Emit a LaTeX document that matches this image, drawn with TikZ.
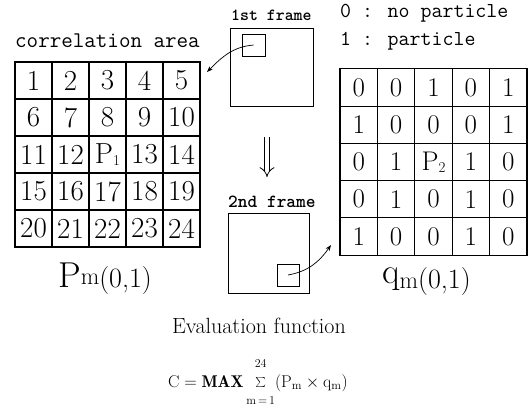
\documentclass[tikz,border=0pt]{standalone}
\usepackage{fontspec}
\usetikzlibrary{arrows.meta}
\newcommand{\fsz}[1]{\fontsize{#1}{#1}\selectfont}
\newcommand{\Pone}{P\raisebox{-2pt}{\fsz{15}1}}
\newcommand{\Ptwo}{P\raisebox{-2pt}{\fsz{15}2}}
\tikzset{
  cellL/.style={draw, line width=1.1pt, minimum size=37pt, inner sep=0pt, font=\fsz{29}},
  cellR/.style={draw, line width=1.1pt, minimum size=37.4pt, inner sep=0pt, font=\fsz{27}},
  framebox/.style={draw, line width=0.9pt, inner sep=0pt},
  monolabel/.style={font=\ttfamily\fsz{#1}, inner sep=0pt, anchor=base west},
  flow/.style={line width=0.7pt, -{Stealth[length=6pt,width=4.5pt]}},
}
\begin{document}
\begin{tikzpicture}[x=1pt,y=-1pt]
\useasboundingbox (0,0) rectangle (531,408);

% left grid
\foreach \row [count=\r] in {{1,2,3,4,5},{6,7,8,9,10},{11,12,\Pone,13,14},{15,16,17,18,19},{20,21,22,23,24}}{
  \foreach \val [count=\c] in \row {
    \node[cellL] (L-\r-\c) at ({15+37*(\c-0.5)},{62+37*(\r-0.5)}) {\val};
  }
}
% right grid
\foreach \row [count=\r] in {{0,0,1,0,1},{1,0,0,0,1},{0,1,\Ptwo,1,0},{0,1,0,1,0},{1,0,0,1,0}}{
  \foreach \val [count=\c] in \row {
    \node[cellR] (R-\r-\c) at ({340+37.4*(\c-0.5)},{69+37.2*(\r-0.5)}) {\val};
  }
}

% labels
\node[monolabel=22.4] (corr) at (15,47) {correlation area};
\node[monolabel=21.3] (zero) at (340,17) {0 : no particle};
\node[monolabel=21.3] (one) at (340,45) {1 : particle};
\node[monolabel=17, font=\ttfamily\bfseries\fsz{17}] (f1lab) at (231,20) {1st frame};
\node[monolabel=18.5, font=\ttfamily\bfseries\fsz{18.5}] (f2lab) at (228,207) {2nd frame};

% frames
\node[framebox, minimum width=83pt, minimum height=78pt] (f1) at (271.5,67) {};
\node[framebox, minimum width=23pt, minimum height=22pt] (s1) at (253.5,45) {};
\node[framebox, minimum width=81pt, minimum height=80pt] (f2) at (268.5,253) {};
\node[framebox, minimum width=22pt, minimum height=22pt] (s2) at (288,275) {};

\coordinate (t1) at (207,72);
\coordinate (t2) at (331,245);
\draw[flow] (s1.center) to[out=185,in=45] (t1);
\draw[flow] (s2.center) to[out=10,in=235] (t2);

% down double arrow
\coordinate (da1) at (267,137);
\coordinate (da2) at (267,177);
\draw[double, double distance=4.5pt, line width=0.8pt, -{Implies}] (da1) -- (da2);

% grid captions
\node[inner sep=0pt, anchor=base west] (plab) at (58,287)
  {{\fsz{36}P}\raisebox{3pt}{\fsz{24}m}{\fsz{28}(0,1)}};
\node[inner sep=0pt, anchor=base west] (qlab) at (382,288)
  {\raisebox{5pt}{\fsz{36}q}{\fsz{24}m}{\fsz{28}(0,1)}};

% evaluation function
\node[inner sep=0pt, anchor=base, font=\fsz{22}] (eval) at (259,333) {Evaluation function};
\node[inner sep=0pt, anchor=base west, font=\fsz{17}] (formula) at (168,387)
  {$\mathrm{C}=\mathbf{MAX}\sum\limits_{\raisebox{-11pt}{$\scriptstyle\mathrm{m}\,=\,1$}}^{\raisebox{8pt}{$\scriptstyle 24$}}(\mathrm{P_m}\times\mathrm{q_m})$};
\end{tikzpicture}
\end{document}
